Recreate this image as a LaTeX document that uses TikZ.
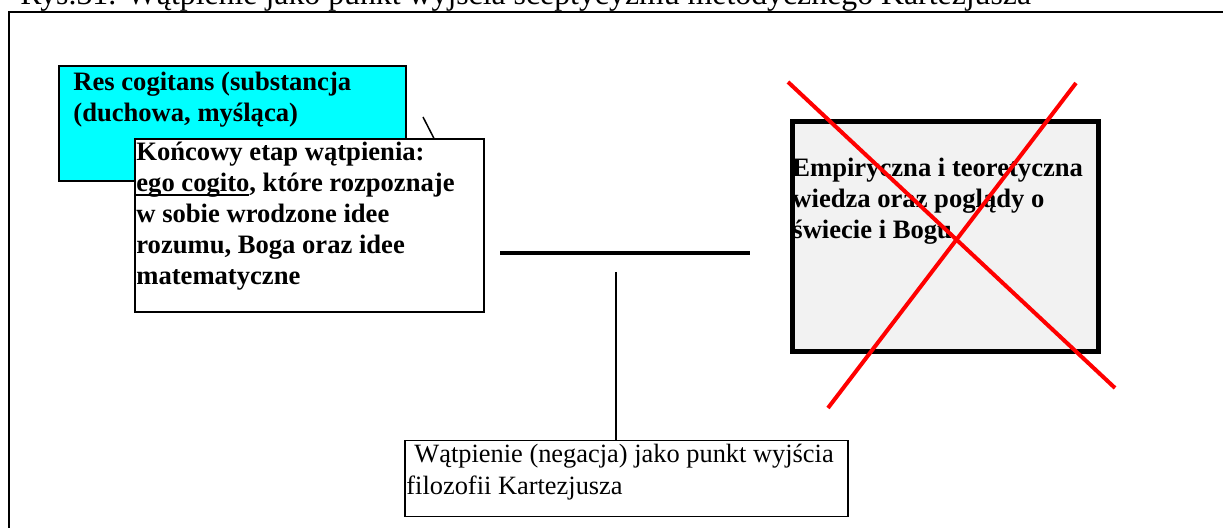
\documentclass[tikz,border=0pt]{standalone}
\usepackage{fontspec}
\setmainfont{Liberation Serif}
\usepackage{xcolor}
\usetikzlibrary{positioning}

\definecolor{rescyan}{RGB}{0,255,255}
\definecolor{boxgray}{RGB}{242,242,242}
\definecolor{crossred}{RGB}{255,0,0}

\newcommand{\ulthick}[1]{\setbox0\hbox{#1}\rlap{\rule[-2.5pt]{\wd0}{1pt}}\box0}

\tikzset{
  pagebox/.style={draw, anchor=north west, inner sep=0pt},
  boldtext/.style={anchor=base west, align=left, inner sep=0pt, font=\bfseries\fontsize{13.3}{15.6}\selectfont},
  plaintext/.style={anchor=base west, align=left, inner sep=0pt, font=\fontsize{13.2}{16}\selectfont},
  crossline/.style={draw=crossred, line width=2pt}
}

\begin{document}
\begin{tikzpicture}[x=0.5pt,y=0.5pt,yscale=-1,xscale=1]
        \useasboundingbox (0,0) rectangle (1223,528);
        \clip (0,0) rectangle (1223,528);
        % caption, cut at the top
        \node[plaintext, font=\fontsize{15.9}{18}\selectfont] (caption) at (20,5) {Rys.31. Wątpienie jako punkt wyjścia sceptycyzmu metodycznego Kartezjusza};
        \draw [line width=1pt] (9,540) -- (9,12) -- (1240,12);
        % boxes (text anchored at the last line)
        \node[pagebox, fill=rescyan, line width=1pt, minimum width=173.5pt, minimum height=57.5pt] (res) at (58,65) {};
        \node[boldtext] (res text) at (73,122) {Res cogitans (substancja\\(duchowa, myśląca)};
        \draw [line width=0.75pt] (423,117) -- (443,156);
        \node[pagebox, fill=white, line width=1pt, minimum width=174.5pt, minimum height=86.5pt] (etap) at (134,138) {};
        \node[boldtext] (etap text) at (136,285) {Końcowy etap wątpienia:\\\ulthick{ego cogito}, które rozpoznaje\\w sobie wrodzone idee\\rozumu, Boga oraz idee\\matematyczne};
        \node[pagebox, fill=boxgray, line width=2.5pt, minimum width=153pt, minimum height=115pt] (wiedza) at (789.5,119.5) {};
        \node[boldtext] (wiedza text) at (792,239) {Empiryczna i teoretyczna\\wiedza oraz poglądy o\\świecie i Bogu};
        \node[pagebox, line width=0.75pt, minimum width=221.5pt, minimum height=38pt] (watp) at (404,440) {};
        \node[plaintext] (watp text) at (406,495) {\hspace*{4pt}Wątpienie (negacja) jako punkt wyjścia\\filozofii Kartezjusza};
        % bar and stem
        \coordinate (bar left) at (500,253);
        \coordinate (bar right) at (750,253);
        \draw [line width=2pt] (bar left) -- (bar right);
        \coordinate (stem top) at (616,272);
        \draw [line width=0.75pt] (stem top) -- (stem top |- watp.north);
        % red cross
        \draw [crossline] (788,82) -- (1115,388);
        \draw [crossline] (1076,83) -- (828,408);
\end{tikzpicture}
\end{document}
